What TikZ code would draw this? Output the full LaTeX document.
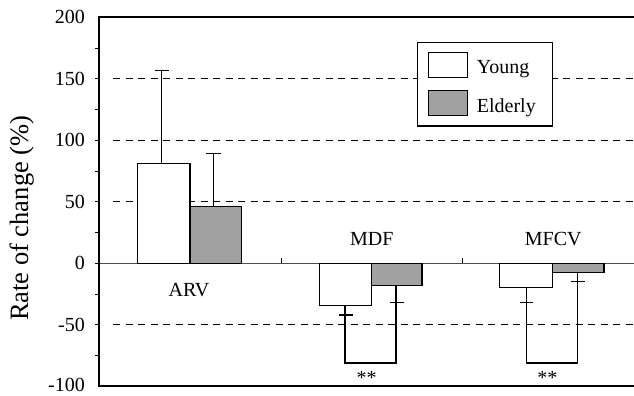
\documentclass[tikz,border=0pt]{standalone}
\usepackage{fontspec}
\setmainfont{Liberation Serif}
\usepackage{tikz}
\definecolor{barfill}{gray}{0.63}

\begin{document}
\begin{tikzpicture}[x=1pt, y=1.23pt,
  bar/.style={draw, line width=1.2pt},
  young/.style={bar, fill=white},
  elderly/.style={bar, fill=barfill},
  err/.style={line width=1.2pt},
  gridline/.style={line width=1pt, dash pattern=on 7pt off 5.5pt},
  frame/.style={line width=2pt},
  lbl/.style={font=\fontsize{20}{24}\selectfont, inner sep=0pt}]
  \useasboundingbox (0,-107.07) rectangle (634,214.07);
  % grid and axes
  \foreach \v in {150,100,50,-50} \draw[gridline] (113,\v) -- (634,\v);
  \draw[line width=0.8pt, black!70] (99.3,0) -- (634,0);
  \draw[line width=0.8pt] (281.7,0) -- (281.7,4.5) (462.3,0) -- (462.3,4.5);
  \draw[frame] (634,200) -- (99.3,200) -- (99.3,-100) -- (634,-100);
  \foreach \v in {-75,-50,...,175} \draw[line width=1pt] (95.3,\v) -- (99.3,\v);
  \foreach \v in {200,150,100,50,0,-50}
    \node[lbl, anchor=east] (t\v) at (85,\v) {\v};
  \node[lbl, anchor=east] (t-100) at (85,-99) {-100};
  \node[font=\fontsize{26.5}{30}\selectfont, rotate=90] (ylab) at (21.7,36.6) {Rate of change (\%)};
  % ARV
  \draw[err] (161.7,81) -- (161.7,157) (154.5,157) -- (168.9,157);
  \draw[err] (213.3,46) -- (213.3,89) (206.1,89) -- (220.5,89);
  \draw[young] (137.7,0) rectangle (190,81);
  \draw[elderly] (190,0) rectangle (241.7,46);
  \node[lbl] (arv) at (189,-21.5) {ARV};
  % MDF
  \draw[young] (319.3,0) rectangle (371.7,-34.6);
  \draw[elderly] (371.7,0) rectangle (422,-17.9);
  \draw[err] (338.5,-42) -- (352.5,-42) (389.5,-32) -- (403.5,-32);
  \draw[err] (345,-34.6) -- (345,-81) -- (396,-81) -- (396,-17.9);
  \node[lbl] (mdf) at (371.7,19.5) {MDF};
  \node[lbl] (sigmdf) at (366.7,-93) {**};
  % MFCV
  \draw[young] (499.3,0) rectangle (552.3,-19.5);
  \draw[elderly] (552.3,0) rectangle (604,-7.6);
  \draw[err] (520,-32) -- (533.4,-32) (570.5,-15) -- (584.9,-15);
  \draw[err] (526.7,-19.5) -- (526.7,-81) -- (577.7,-81) -- (577.7,-7.6);
  \node[lbl] (mfcv) at (553.3,19.5) {MFCV};
  \node[lbl] (sigmfcv) at (547.3,-93) {**};
  % legend
  \draw[bar, fill=white] (417.7,111.6) rectangle (552.3,179.7);
  \draw[young] (428.3,151.2) rectangle (467.3,171.5);
  \draw[elderly] (428.3,120) rectangle (467.3,140.3);
  \node[lbl, anchor=base west] (lyoung) at (476.7,154.5) {Young};
  \node[lbl, anchor=base west] (lelderly) at (476.7,122.4) {Elderly};
\end{tikzpicture}
\end{document}
